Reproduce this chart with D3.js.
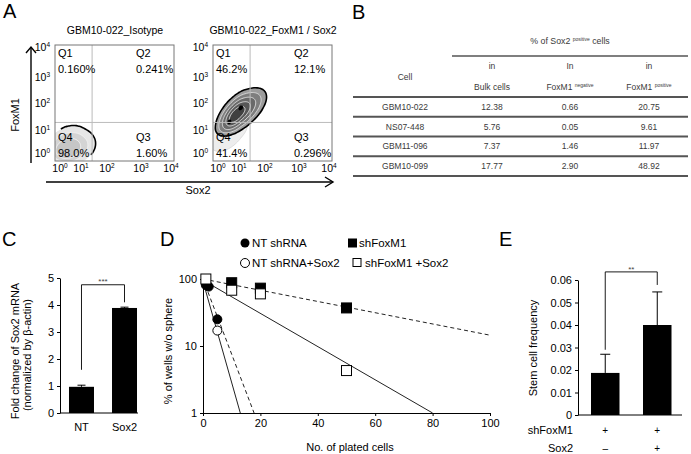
<!DOCTYPE html>
<html><head><meta charset="utf-8">
<script src="https://cdn.jsdelivr.net/npm/d3@7"></script>
<style>
body{margin:0;background:#fff}
svg{display:block;background:#fff}
text{font-family:"Liberation Sans",Arial,Helvetica,sans-serif}
</style>
</head><body>
<svg id="fig" width="691" height="454"></svg>
<script>
// ---------------- DATA ----------------
// Panel A: flow cytometry
const flowTitles = ["GBM10-022_Isotype", "GBM10-022_FoxM1 / Sox2"];
const flowExponents = [0, 1, 2, 3, 4];
const quadNames = ["Q1", "Q2", "Q3", "Q4"];
const isoPercents = ["0.160%", "0.241%", "1.60%", "98.0%"];
const foxPercents = ["46.2%", "12.1%", "0.296%", "41.4%"];
const gateExp = [1.35, 1.28]; // Sox2 gate, FoxM1 gate (log10)
const isoContours = [
  {cx:0.4, cy:0.3, rx:1.1, ry:0.85, angle:15, fill:"#e6e6e6", stroke:"none"},
  {cx:0.35, cy:0.25, rx:0.85, ry:0.62, angle:15, fill:"#d4d4d4", stroke:"#f4f4f4"},
  {cx:0.3, cy:0.2, rx:0.6, ry:0.42, angle:15, fill:"#c6c6c6", stroke:"#fafafa"},
  {cx:0.4, cy:0.3, rx:1.1, ry:0.85, angle:15, fill:"none", stroke:"#000", sw:1.6, t0:-45, t1:105}
];
const foxContours = [
  {cx:0.4, cy:0.9, rx:1.05, ry:0.6, angle:42, fill:"#ededed", stroke:"#d6d6d6"},
  {cx:0.88, cy:1.66, rx:1.3, ry:0.62, angle:37, fill:"#9c9c9c", stroke:"#000", sw:1.6},
  {cx:0.86, cy:1.64, rx:1.08, ry:0.5, angle:37, fill:"#7e7e7e", stroke:"#e6e6e6"},
  {cx:0.84, cy:1.62, rx:0.86, ry:0.39, angle:37, fill:"#6a6a6a", stroke:"#efefef"},
  {cx:0.82, cy:1.6, rx:0.64, ry:0.29, angle:37, fill:"#575757", stroke:"#f4f4f4"},
  {cx:0.8, cy:1.58, rx:0.42, ry:0.19, angle:37, fill:"#404040", stroke:"#fff"},
  {cx:0.98, cy:1.82, rx:0.11, ry:0.08, angle:37, fill:"#000", stroke:"none"},
  {cx:0.45, cy:1.3, rx:0.1, ry:0.08, angle:37, fill:"#000", stroke:"none"}
];

// Panel B: table
const tableCells = ["GBM10-022", "NS07-448", "GBM11-096", "GBM10-099"];
const bulkPct = ["12.38", "5.76", "7.37", "17.77"];
const foxNegPct = ["0.66", "0.05", "1.46", "2.90"];
const foxPosPct = ["20.75", "9.61", "11.97", "48.92"];

// Panel C
const cCategories = ["NT", "Sox2"];
const cValues = [0.97, 3.89];
const cErrors = [0.06, 0.03];
const cTicks = [0, 1, 2, 3, 4, 5];
const cBracket = [1.6, 4.75, 4.1]; // left start, top, right end
// Panel D
const dXTicks = [0, 20, 40, 60, 80, 100];
const dYTicks = [1, 10, 100];
const ntShX = [1, 2, 5],        ntShY = [81, 77, 25];
const ntSoxX = [1, 5],          ntSoxY = [88, 17];
const shFoxX = [10, 20, 50],    shFoxY = [88, 73, 37];
const shFoxSoxX = [1, 10, 20, 50], shFoxSoxY = [100, 68, 60, 4.3];
const fitNtSh = [[0, 92], [13, 1]];
const fitNtSox = [[0, 100], [17.8, 1]];
const fitShFox = [[0, 100], [100, 14.5]];
const fitShFoxSox = [[0, 96], [80, 1]];
// Panel E
const eCategories = ["a", "b"];
const eValues = [0.0187, 0.0400];
const eErrors = [0.0083, 0.0147];
const eTicks = [0, 0.01, 0.02, 0.03, 0.04, 0.05, 0.06];
const eFoxSigns = ["+", "+"];
const eSoxSigns = ["\u2013", "+"];
const eBracket = [0.029, 0.0636, 0.0578];

// ---------------- DRAW ----------------
const svg = d3.select("#fig");
svg.append("rect").attr("width", 691).attr("height", 454).attr("fill", "#fff");

function txt(g, x, y, s, size, anchor) {
  return g.append("text").attr("x", x).attr("y", y).attr("font-size", size)
    .attr("text-anchor", anchor || "start").attr("fill", "#000").text(s);
}
// Panel letters
[["A",3,18],["B",352,19],["C",2,246],["D",160,246],["E",499,246]].forEach(d =>
  txt(svg, d[1], d[2], d[0], 20));

// ---- Panel A ----
function ellipsePath(c, xs, ys, t0, t1, close) {
  const th = c.angle * Math.PI / 180;
  const pts = d3.range(t0, t1 + 0.01, 4).map(t => {
    const a = t * Math.PI / 180, ux = c.rx * Math.cos(a), uy = c.ry * Math.sin(a);
    return [xs(c.cx + ux * Math.cos(th) - uy * Math.sin(th)), ys(c.cy + ux * Math.sin(th) + uy * Math.cos(th))];
  });
  return d3.line().curve(d3.curveCardinal)(pts) + (close ? "Z" : "");
}
function supText(g, x, y, base, exp, size, anchor) {
  const t = g.append("text").attr("x", x).attr("y", y).attr("font-size", size)
    .attr("text-anchor", anchor).attr("fill", "#000");
  t.append("tspan").text(base);
  t.append("tspan").attr("font-size", size * 0.62).attr("dy", -size * 0.42).text(exp);
}
function drawFlow(x0, idx, percents, contours) {
  const top = 45, bottom = 161, w = 119;
  const g = svg.append("g");
  const xs = d3.scaleLinear().domain(flowExponents).range([7, 28, 54, 88, 118].map(d => x0 + d));
  const ys = d3.scaleLinear().domain(flowExponents).range([153, 130, 103, 77, 47]);
  const cid = "clip" + idx;
  svg.append("clipPath").attr("id", cid).append("rect")
    .attr("x", x0).attr("y", top).attr("width", w).attr("height", bottom - top);
  const cg = g.append("g").attr("clip-path", `url(#${cid})`);
  contours.forEach(c => {
    const t0 = c.t0 !== undefined ? c.t0 : 0, t1 = c.t1 !== undefined ? c.t1 : 360;
    cg.append("path").attr("d", ellipsePath(c, xs, ys, t0, t1, c.t0 === undefined))
      .attr("fill", c.fill).attr("stroke", c.stroke).attr("stroke-width", c.sw || 0.8);
  });
  g.append("line").attr("x1", xs(gateExp[0])).attr("x2", xs(gateExp[0])).attr("y1", top).attr("y2", bottom)
    .attr("stroke", "#bbb").attr("stroke-width", 1);
  g.append("line").attr("x1", x0).attr("x2", x0 + w).attr("y1", ys(gateExp[1])).attr("y2", ys(gateExp[1]))
    .attr("stroke", "#bbb").attr("stroke-width", 1);
  g.append("rect").attr("x", x0).attr("y", top).attr("width", w).attr("height", bottom - top)
    .attr("fill", "none").attr("stroke", "#777").attr("stroke-width", 1);
  flowExponents.forEach(e => {
    supText(g, xs(e) - 2, 172, "10", String(e), 10.5, "middle");
    supText(g, x0 - 5, ys(e) + 4, "10", String(e), 10.5, "end");
  });
  txt(g, x0 + 60, 34, flowTitles[idx], 10.5, "middle");
  const qx = [x0 + 3, x0 + 81, x0 + 81, x0 + 3];
  const qy = [57, 57, 141, 141];
  quadNames.forEach((q, i) => {
    txt(g, qx[i], qy[i], q, 11);
    txt(g, qx[i], qy[i] + 16, percents[i], 11);
  });
}
drawFlow(55, 0, isoPercents, isoContours);
drawFlow(213, 1, foxPercents, foxContours);
// arrows
const arr = svg.append("g").attr("stroke", "#000").attr("stroke-width", 1.4).attr("fill", "none");
arr.append("line").attr("x1", 31).attr("x2", 31).attr("y1", 163).attr("y2", 47);
arr.append("polyline").attr("points", "26,53 31,47 36,53");
arr.append("line").attr("x1", 46).attr("x2", 333).attr("y1", 182).attr("y2", 182);
arr.append("polyline").attr("points", "325,177 333,182 325,187");
txt(svg, 198, 194, "Sox2", 11, "middle");
svg.append("text").attr("transform", "translate(19,115) rotate(-90)").attr("font-size", 11)
  .attr("text-anchor", "middle").text("FoxM1");

// ---- Panel B ----
const TC = "#3a3a3a";
const tb = svg.append("g");
const colX = d3.scaleOrdinal().domain(["cell", "bulk", "neg", "pos"]).range([405, 492, 570, 649]);
const rowY = d3.scaleBand().domain(tableCells).range([97, 176]);
function ttxt(x, y, s, size) {
  return tb.append("text").attr("x", x).attr("y", y).attr("font-size", size || 8.5)
    .attr("text-anchor", "middle").attr("fill", TC).text(s);
}
{
  const h = tb.append("text").attr("x", 570).attr("y", 44).attr("font-size", 8.8)
    .attr("text-anchor", "middle").attr("fill", TC);
  h.append("tspan").text("% of Sox2 ");
  h.append("tspan").attr("font-size", 5).attr("dy", -3).text("positive");
  h.append("tspan").attr("dy", 3).text("  cells");
}
tb.append("line").attr("x1", 452).attr("x2", 688).attr("y1", 56).attr("y2", 56)
  .attr("stroke", "#555").attr("stroke-width", 1.6);
ttxt(colX("cell"), 80, "Cell");
ttxt(colX("bulk"), 69, "in"); ttxt(colX("neg"), 69, "In"); ttxt(colX("pos"), 69, "in");
ttxt(colX("bulk"), 90, "Bulk cells");
[["neg", "negative"], ["pos", "positive"]].forEach(d => {
  const t = tb.append("text").attr("x", colX(d[0])).attr("y", 90).attr("font-size", 8.5)
    .attr("text-anchor", "middle").attr("fill", TC);
  t.append("tspan").text("FoxM1 ");
  t.append("tspan").attr("font-size", 5).attr("dy", -3).text(d[1]);
});
tableCells.forEach((c, i) => {
  const y = rowY(c) + rowY.bandwidth() / 2 + 3;
  ttxt(colX("cell"), y, c);
  ttxt(colX("bulk"), y, bulkPct[i]);
  ttxt(colX("neg"), y, foxNegPct[i]);
  ttxt(colX("pos"), y, foxPosPct[i]);
});
[...tableCells.map(c => rowY(c)), 176].forEach(y =>
  tb.append("line").attr("x1", 353).attr("x2", 688).attr("y1", y).attr("y2", y)
    .attr("stroke", "#555").attr("stroke-width", 2));

// axis styling helper
function styleAxis(g, size) {
  g.attr("font-family", '"Liberation Sans",Arial,sans-serif').attr("font-size", size || 11);
  g.selectAll("text").attr("fill", "#000");
  g.selectAll("line,path").attr("stroke", "#000");
}

// ---- Panel C ----
const yC = d3.scaleLinear().domain([0, 5]).range([413, 278]);
const xC = d3.scaleBand().domain(cCategories).range([60, 146]).paddingInner(0.419).paddingOuter(0.209);
const gC = svg.append("g");
styleAxis(gC.append("g").attr("transform", "translate(60,0)")
  .call(d3.axisLeft(yC).tickValues(cTicks).tickSize(3).tickSizeOuter(0).tickFormat(d3.format("d"))));
gC.append("line").attr("x1", 60).attr("x2", 138).attr("y1", yC(0)).attr("y2", yC(0)).attr("stroke", "#000");
cCategories.forEach((c, i) => {
  const cx = xC(c) + xC.bandwidth() / 2;
  gC.append("rect").attr("x", xC(c)).attr("width", xC.bandwidth()).attr("y", yC(cValues[i]))
    .attr("height", yC(0) - yC(cValues[i])).attr("fill", "#000");
  gC.append("line").attr("x1", cx).attr("x2", cx).attr("y1", yC(cValues[i])).attr("y2", yC(cValues[i] + cErrors[i])).attr("stroke", "#000");
  gC.append("line").attr("x1", cx - 4).attr("x2", cx + 4).attr("y1", yC(cValues[i] + cErrors[i])).attr("y2", yC(cValues[i] + cErrors[i])).attr("stroke", "#000");
  txt(gC, cx, 431, c, 11, "middle");
});
{
  const a = xC("NT") + xC.bandwidth() / 2, b = xC("Sox2") + xC.bandwidth() / 2;
  gC.append("path").attr("d", `M${a},${yC(cBracket[0])}V${yC(cBracket[1])}H${b}V${yC(cBracket[2])}`)
    .attr("fill", "none").attr("stroke", "#000").attr("stroke-width", 0.9);
  txt(gC, (a + b) / 2, 284, "***", 8, "middle").attr("fill", "#444");
}
svg.append("text").attr("transform", "translate(19,351) rotate(-90)").attr("font-size", 11)
  .attr("text-anchor", "middle").text("Fold change of Sox2 mRNA");
svg.append("text").attr("transform", "translate(31,355) rotate(-90)").attr("font-size", 11)
  .attr("text-anchor", "middle").text("(normalized by \u03b2-actin)");

// ---- Panel D ----
const xD = d3.scaleLinear().domain([0, 100]).range([203, 490]);
const yD = d3.scaleLog().domain([1, 100]).range([413, 279]);
const gD = svg.append("g");
styleAxis(gD.append("g").attr("transform", `translate(0,${yD(1)})`)
  .call(d3.axisBottom(xD).tickValues(dXTicks).tickSize(3).tickSizeOuter(0).tickFormat(d3.format("d"))));
styleAxis(gD.append("g").attr("transform", `translate(${xD(0)},0)`)
  .call(d3.axisLeft(yD).tickValues(dYTicks).tickSize(3).tickSizeOuter(0).tickFormat(d3.format("d"))));
const lineD = d3.line().x(d => xD(d[0])).y(d => yD(d[1]));
[[fitNtSh, null], [fitNtSox, "4,3"], [fitShFox, "4,3"], [fitShFoxSox, null]].forEach(l =>
  gD.append("path").attr("d", lineD(l[0])).attr("fill", "none").attr("stroke", "#222")
    .attr("stroke-width", 1).attr("stroke-dasharray", l[1]));
function circles(xsArr, ysArr, filled) {
  xsArr.forEach((x, i) => gD.append("circle").attr("cx", xD(x)).attr("cy", yD(ysArr[i])).attr("r", 4.5)
    .attr("fill", filled ? "#000" : "#fff").attr("stroke", "#000").attr("stroke-width", 1));
}
function squares(xsArr, ysArr, filled) {
  xsArr.forEach((x, i) => gD.append("rect").attr("x", xD(x) - 5).attr("y", yD(ysArr[i]) - 5)
    .attr("width", 10).attr("height", 10)
    .attr("fill", filled ? "#000" : "#fff").attr("stroke", "#000").attr("stroke-width", 1));
}
circles(ntSoxX, ntSoxY, false);
circles(ntShX, ntShY, true);
squares(shFoxX, shFoxY, true);
squares(shFoxSoxX, shFoxSoxY, false);
// legend
{
  const lg = svg.append("g");
  lg.append("circle").attr("cx", 245).attr("cy", 243).attr("r", 4.5).attr("fill", "#000");
  txt(lg, 252, 247, "NT shRNA", 11.5);
  lg.append("rect").attr("x", 348).attr("y", 238.5).attr("width", 9).attr("height", 9).attr("fill", "#000");
  txt(lg, 359, 247, "shFoxM1", 11.5);
  lg.append("circle").attr("cx", 245).attr("cy", 263).attr("r", 4.5).attr("fill", "#fff").attr("stroke", "#000");
  txt(lg, 252, 267, "NT shRNA+Sox2", 11.5);
  lg.append("rect").attr("x", 353).attr("y", 258.5).attr("width", 8).attr("height", 8).attr("fill", "#fff").attr("stroke", "#000");
  txt(lg, 365, 267, "shFoxM1 +Sox2", 11.5);
}
txt(svg, 350, 451, "No. of plated cells", 11, "middle");
svg.append("text").attr("transform", "translate(172,351) rotate(-90)").attr("font-size", 11)
  .attr("text-anchor", "middle").text("% of wells w/o sphere");

// ---- Panel E ----
const yE = d3.scaleLinear().domain([0, 0.06]).range([415, 280]);
const xE = d3.scaleBand().domain(eCategories).range([578, 684.5]).paddingInner(0.452).paddingOuter(0.25);
const gE = svg.append("g");
styleAxis(gE.append("g").attr("transform", "translate(578,0)")
  .call(d3.axisLeft(yE).tickValues(eTicks).tickSize(3).tickSizeOuter(0)
    .tickFormat(d => d === 0 ? "0" : d3.format(".2f")(d))));
gE.append("line").attr("x1", 578).attr("x2", 682).attr("y1", yE(0)).attr("y2", yE(0)).attr("stroke", "#000");
eCategories.forEach((c, i) => {
  const cx = xE(c) + xE.bandwidth() / 2, top = yE(eValues[i]), et = yE(eValues[i] + eErrors[i]);
  gE.append("rect").attr("x", xE(c)).attr("width", xE.bandwidth()).attr("y", top)
    .attr("height", yE(0) - top).attr("fill", "#000");
  gE.append("line").attr("x1", cx).attr("x2", cx).attr("y1", top).attr("y2", et).attr("stroke", "#000");
  gE.append("line").attr("x1", cx - 5).attr("x2", cx + 5).attr("y1", et).attr("y2", et).attr("stroke", "#000");
  txt(gE, cx, 434, eFoxSigns[i], 10, "middle");
  txt(gE, cx, 452, eSoxSigns[i], 10, "middle");
});
{
  const a = xE("a") + xE.bandwidth() / 2, b = xE("b") + xE.bandwidth() / 2;
  gE.append("path").attr("d", `M${a},${yE(eBracket[0])}V${yE(eBracket[1])}H${b}V${yE(eBracket[2])}`)
    .attr("fill", "none").attr("stroke", "#000").attr("stroke-width", 0.9);
  txt(gE, (a + b) / 2, 272, "**", 8, "middle").attr("fill", "#444");
}
txt(svg, 573, 434, "shFoxM1", 11, "end");
txt(svg, 573, 452, "Sox2", 11, "end");
svg.append("text").attr("transform", "translate(537,348) rotate(-90)").attr("font-size", 11)
  .attr("text-anchor", "middle").text("Stem cell frequency");
</script>
</body></html>
